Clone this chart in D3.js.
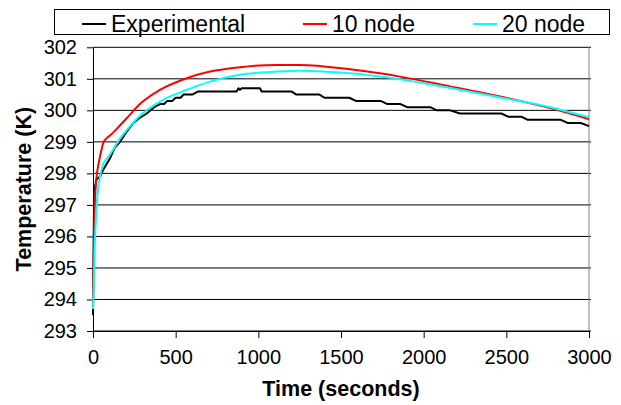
<!DOCTYPE html>
<html lang="en">
<head>
    <meta charset="UTF-8">
    <title>Temperature vs Time</title>
    <script src="https://d3js.org/d3.v7.min.js"></script>
    <style>
        body {
            margin: 0;
            background: #fff;
            font-family: "Liberation Sans", Arial, sans-serif;
        }
        .tick-label {
            font-size: 20px;
            fill: #000;
        }
        .axis-title {
            font-size: 21.5px;
            font-weight: bold;
            fill: #000;
        }
        .legend-text {
            font-size: 23px;
            fill: #000;
        }
        .line {
            fill: none;
            stroke-width: 2;
            stroke-linejoin: round;
        }
    </style>
</head>
<body>
<div id="chart"></div>
<script>

const seriesNames = ["Experimental", "10 node", "20 node"];
const seriesColors = ["#000000", "#ff0000", "#00ffff"];

const xTicks = [0, 500, 1000, 1500, 2000, 2500, 3000];
const yTicks = [293, 294, 295, 296, 297, 298, 299, 300, 301, 302];

const expTime = [0, 5, 10, 20, 42, 60, 103, 130, 163, 200, 244, 280, 325, 370, 405, 430, 450, 480,
    500, 530, 547, 600, 637, 869, 880, 889, 900, 1010, 1020, 1200, 1230, 1370, 1400, 1550, 1590,
    1740, 1780, 1860, 1900, 2040, 2080, 2160, 2220, 2470, 2510, 2590, 2630, 2830, 2870, 2950, 3000];
const expTemp = [293.5, 296.5, 297.5, 297.8, 297.9, 298.1, 298.48, 298.8, 299.0, 299.3, 299.6, 299.75,
    299.9, 300.1, 300.2, 300.2, 300.3, 300.3, 300.4, 300.4, 300.5, 300.5, 300.6, 300.6, 300.7, 300.65,
    300.7, 300.7, 300.6, 300.6, 300.5, 300.5, 300.4, 300.4, 300.3, 300.3, 300.2, 300.2, 300.1, 300.1,
    300.0, 300.0, 299.9, 299.9, 299.8, 299.8, 299.7, 299.7, 299.6, 299.6, 299.5];

// model results
const modelTime = [0, 5, 10, 20, 30, 45, 62, 80, 103, 150, 204, 284, 405, 567, 708, 889, 1111,
    1252, 1555, 1857, 2160, 2462, 2765, 3000];
const node10 = [293.7, 295.5, 296.8, 297.8, 298.2, 298.6, 298.96, 299.1, 299.2, 299.45, 299.75, 300.2,
    300.65, 301.02, 301.23, 301.37, 301.44, 301.44, 301.3, 301.07, 300.76, 300.44, 300.07, 299.72];
const node20 = [293.7, 294.5, 295.6, 296.8, 297.5, 297.95, 298.3, 298.45, 298.6, 299.0, 299.37, 299.83,
    300.28, 300.65, 300.91, 301.13, 301.23, 301.26, 301.18, 300.99, 300.71, 300.41, 300.1, 299.78];

const W = 621, H = 405;
const margin = { top: 47.3, right: 32, bottom: 74, left: 93 };
const width = W - margin.left - margin.right;
const height = H - margin.top - margin.bottom;

const svg = d3.select("#chart")
    .append("svg")
    .attr("width", W)
    .attr("height", H);

const g = svg.append("g")
    .attr("transform", `translate(${margin.left},${margin.top})`);

const x = d3.scaleLinear().domain([0, 3000]).range([0, width]);
const y = d3.scaleLinear().domain([293, 302]).range([height, 0]);

// grid lines
g.append("g")
    .selectAll("line")
    .data(yTicks)
    .enter()
    .append("line")
    .attr("x1", 0)
    .attr("x2", width + 2)
    .attr("y1", d => y(d))
    .attr("y2", d => y(d))
    .attr("stroke", "#000")
    .attr("stroke-width", 1);

// right border of plot area
g.append("line")
    .attr("x1", width).attr("x2", width)
    .attr("y1", 0).attr("y2", height)
    .attr("stroke", "#808080");

// y axis
const yAxis = g.append("g")
    .call(d3.axisLeft(y).tickValues(yTicks).tickSize(6).tickSizeOuter(0).tickPadding(10));
yAxis.select(".domain").attr("stroke", "#000");
yAxis.selectAll("text")
    .attr("class", "tick-label")
    .attr("font-family", null)
    .attr("font-size", null);

// x axis
const xAxis = g.append("g")
    .attr("transform", `translate(0,${height})`)
    .call(d3.axisBottom(x).tickValues(xTicks).tickFormat(d3.format("d"))
        .tickSize(7).tickSizeOuter(0).tickPadding(12));
xAxis.select(".domain").attr("stroke", "#000");
xAxis.selectAll("text")
    .attr("class", "tick-label")
    .attr("font-family", null)
    .attr("font-size", null);

// lines
const expLine = d3.line()
    .x(d => x(d[0]))
    .y(d => y(d[1]));

const modelLine = d3.line()
    .x(d => x(d[0]))
    .y(d => y(d[1]))
    .curve(d3.curveMonotoneX);

const seriesData = [
    d3.zip(expTime, expTemp),
    d3.zip(modelTime, node10),
    d3.zip(modelTime, node20)
];

seriesData.forEach((data, i) => {
    g.append("path")
        .datum(data)
        .attr("class", "line")
        .attr("stroke", seriesColors[i])
        .attr("d", i === 0 ? expLine : modelLine);
});

// axis titles
svg.append("text")
    .attr("class", "axis-title")
    .attr("x", margin.left + width / 2)
    .attr("y", 396)
    .attr("text-anchor", "middle")
    .text("Time (seconds)");

svg.append("text")
    .attr("class", "axis-title")
    .attr("transform", `translate(31, ${margin.top + height / 2}) rotate(-90)`)
    .attr("text-anchor", "middle")
    .text("Temperature (K)");

// legend
const legend = svg.append("g");
legend.append("rect")
    .attr("x", 54.5)
    .attr("y", 9.5)
    .attr("width", 555)
    .attr("height", 25)
    .attr("fill", "#fff")
    .attr("stroke", "#000");

const legendX = [82, 303, 473];
seriesNames.forEach((name, i) => {
    legend.append("line")
        .attr("x1", legendX[i])
        .attr("x2", legendX[i] + 24)
        .attr("y1", 24)
        .attr("y2", 24)
        .attr("stroke", seriesColors[i])
        .attr("stroke-width", 2);
    legend.append("text")
        .attr("class", "legend-text")
        .attr("x", legendX[i] + 29)
        .attr("y", 32)
        .text(name);
});
</script>
</body>
</html>
